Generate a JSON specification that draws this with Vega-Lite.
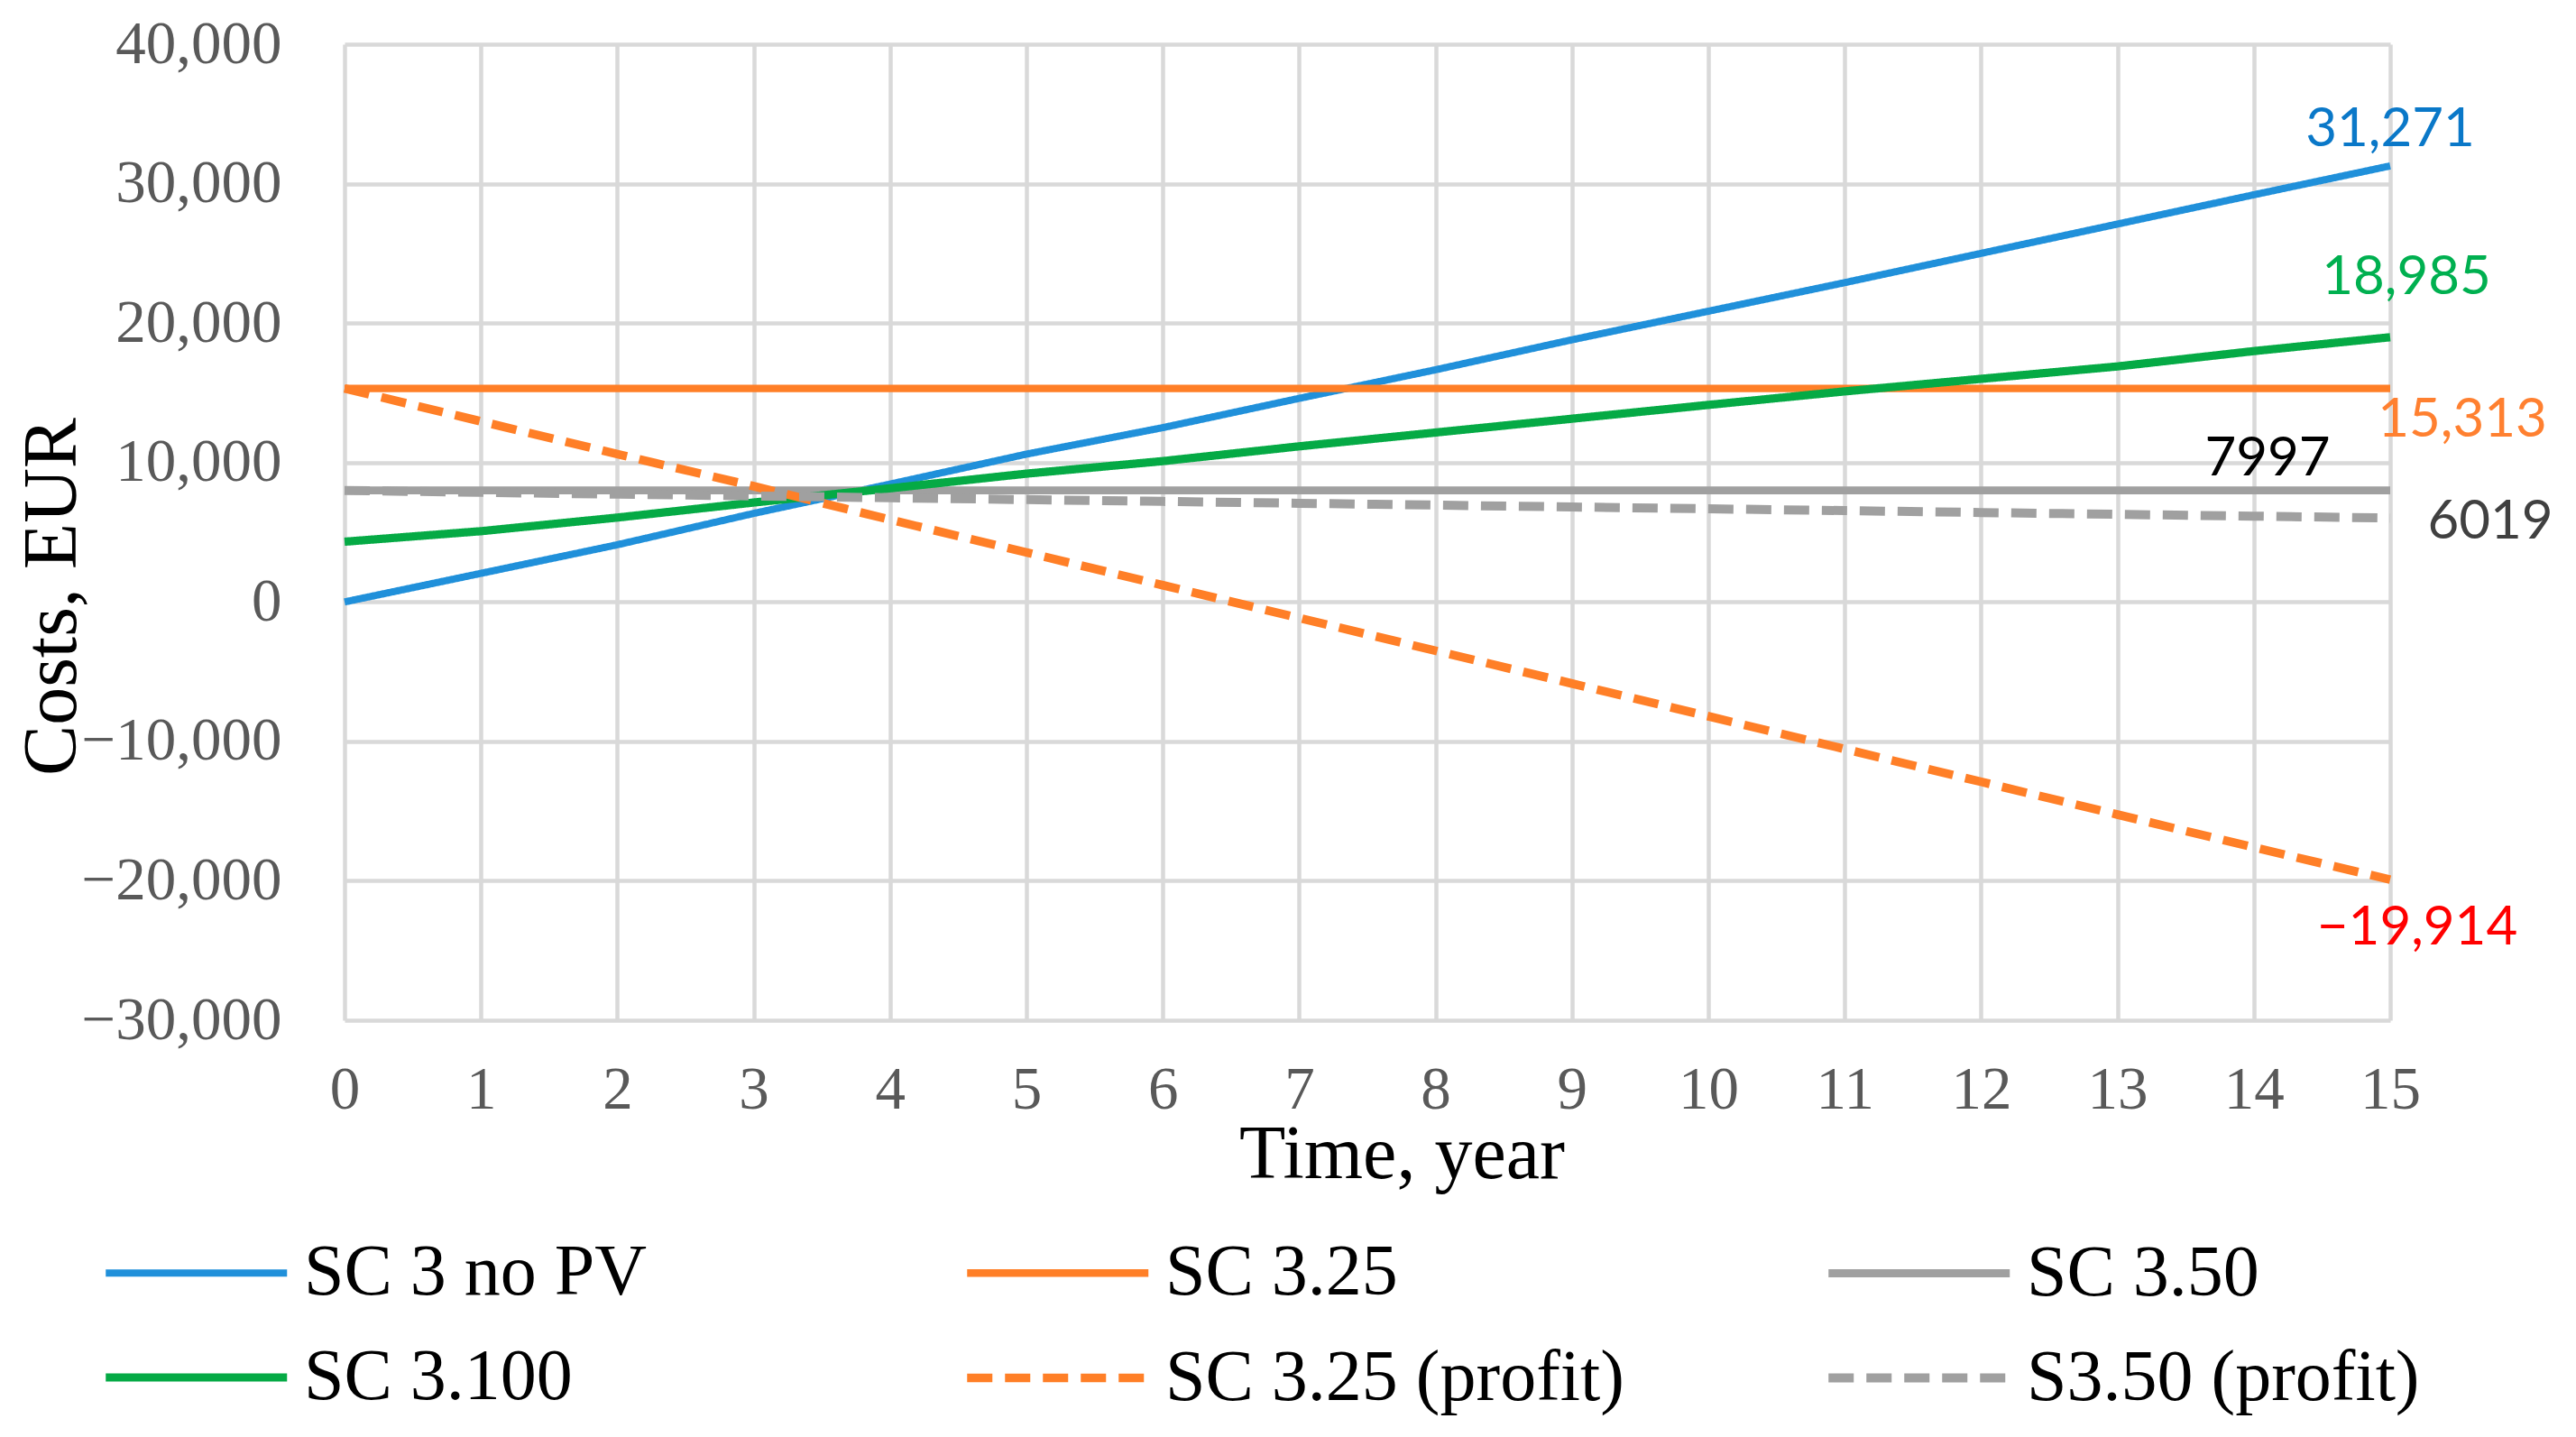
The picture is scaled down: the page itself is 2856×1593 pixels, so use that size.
{
  "$schema": "https://vega.github.io/schema/vega-lite/v6.json",
  "width": 2268,
  "height": 1082,
  "autosize": {"type": "none"},
  "padding": {"left": 382, "top": 49, "right": 206, "bottom": 462},
  "background": "white",
  "config": {
    "view": {"stroke": null},
    "axis": {
      "labelFont": "Liberation Serif",
      "labelFontSize": 67,
      "labelColor": "#595959",
      "labelFlush": false,
      "labelOverlap": false,
      "labelLimit": 0,
      "titleFont": "Liberation Serif",
      "titleFontSize": 84,
      "titleFontWeight": "normal",
      "titleColor": "#000000",
      "grid": true,
      "gridColor": "#d9d9d9",
      "gridWidth": 4.5,
      "domain": false,
      "ticks": false
    },
    "text": {"font": "Lato", "fontSize": 60, "align": "center", "baseline": "alphabetic"}
  },
  "data": {
    "values": [
      {"series": "SC 3 no PV", "year": 0, "cost": 0},
      {"series": "SC 3 no PV", "year": 1, "cost": 2050},
      {"series": "SC 3 no PV", "year": 2, "cost": 4100},
      {"series": "SC 3 no PV", "year": 3, "cost": 6350},
      {"series": "SC 3 no PV", "year": 4, "cost": 8450},
      {"series": "SC 3 no PV", "year": 5, "cost": 10600},
      {"series": "SC 3 no PV", "year": 6, "cost": 12500},
      {"series": "SC 3 no PV", "year": 7, "cost": 14600},
      {"series": "SC 3 no PV", "year": 8, "cost": 16650},
      {"series": "SC 3 no PV", "year": 9, "cost": 18800},
      {"series": "SC 3 no PV", "year": 10, "cost": 20850},
      {"series": "SC 3 no PV", "year": 11, "cost": 22900},
      {"series": "SC 3 no PV", "year": 12, "cost": 25000},
      {"series": "SC 3 no PV", "year": 13, "cost": 27100},
      {"series": "SC 3 no PV", "year": 14, "cost": 29200},
      {"series": "SC 3 no PV", "year": 15, "cost": 31271},
      {"series": "SC 3.25", "year": 0, "cost": 15313},
      {"series": "SC 3.25", "year": 1, "cost": 15313},
      {"series": "SC 3.25", "year": 2, "cost": 15313},
      {"series": "SC 3.25", "year": 3, "cost": 15313},
      {"series": "SC 3.25", "year": 4, "cost": 15313},
      {"series": "SC 3.25", "year": 5, "cost": 15313},
      {"series": "SC 3.25", "year": 6, "cost": 15313},
      {"series": "SC 3.25", "year": 7, "cost": 15313},
      {"series": "SC 3.25", "year": 8, "cost": 15313},
      {"series": "SC 3.25", "year": 9, "cost": 15313},
      {"series": "SC 3.25", "year": 10, "cost": 15313},
      {"series": "SC 3.25", "year": 11, "cost": 15313},
      {"series": "SC 3.25", "year": 12, "cost": 15313},
      {"series": "SC 3.25", "year": 13, "cost": 15313},
      {"series": "SC 3.25", "year": 14, "cost": 15313},
      {"series": "SC 3.25", "year": 15, "cost": 15313},
      {"series": "SC 3.50", "year": 0, "cost": 7997},
      {"series": "SC 3.50", "year": 1, "cost": 7997},
      {"series": "SC 3.50", "year": 2, "cost": 7997},
      {"series": "SC 3.50", "year": 3, "cost": 7997},
      {"series": "SC 3.50", "year": 4, "cost": 7997},
      {"series": "SC 3.50", "year": 5, "cost": 7997},
      {"series": "SC 3.50", "year": 6, "cost": 7997},
      {"series": "SC 3.50", "year": 7, "cost": 7997},
      {"series": "SC 3.50", "year": 8, "cost": 7997},
      {"series": "SC 3.50", "year": 9, "cost": 7997},
      {"series": "SC 3.50", "year": 10, "cost": 7997},
      {"series": "SC 3.50", "year": 11, "cost": 7997},
      {"series": "SC 3.50", "year": 12, "cost": 7997},
      {"series": "SC 3.50", "year": 13, "cost": 7997},
      {"series": "SC 3.50", "year": 14, "cost": 7997},
      {"series": "SC 3.50", "year": 15, "cost": 7997},
      {"series": "SC 3.100", "year": 0, "cost": 4320},
      {"series": "SC 3.100", "year": 1, "cost": 5075},
      {"series": "SC 3.100", "year": 2, "cost": 6050},
      {"series": "SC 3.100", "year": 3, "cost": 7130},
      {"series": "SC 3.100", "year": 4, "cost": 8150},
      {"series": "SC 3.100", "year": 5, "cost": 9200},
      {"series": "SC 3.100", "year": 6, "cost": 10100},
      {"series": "SC 3.100", "year": 7, "cost": 11160},
      {"series": "SC 3.100", "year": 8, "cost": 12150},
      {"series": "SC 3.100", "year": 9, "cost": 13140},
      {"series": "SC 3.100", "year": 10, "cost": 14130},
      {"series": "SC 3.100", "year": 11, "cost": 15100},
      {"series": "SC 3.100", "year": 12, "cost": 16000},
      {"series": "SC 3.100", "year": 13, "cost": 16890},
      {"series": "SC 3.100", "year": 14, "cost": 17990},
      {"series": "SC 3.100", "year": 15, "cost": 18985},
      {"series": "SC 3.25 (profit)", "year": 0, "cost": 15313},
      {"series": "SC 3.25 (profit)", "year": 1, "cost": 12950},
      {"series": "SC 3.25 (profit)", "year": 2, "cost": 10600},
      {"series": "SC 3.25 (profit)", "year": 3, "cost": 8300},
      {"series": "SC 3.25 (profit)", "year": 4, "cost": 5900},
      {"series": "SC 3.25 (profit)", "year": 5, "cost": 3550},
      {"series": "SC 3.25 (profit)", "year": 6, "cost": 1200},
      {"series": "SC 3.25 (profit)", "year": 7, "cost": -1150},
      {"series": "SC 3.25 (profit)", "year": 8, "cost": -3500},
      {"series": "SC 3.25 (profit)", "year": 9, "cost": -5850},
      {"series": "SC 3.25 (profit)", "year": 10, "cost": -8200},
      {"series": "SC 3.25 (profit)", "year": 11, "cost": -10550},
      {"series": "SC 3.25 (profit)", "year": 12, "cost": -12900},
      {"series": "SC 3.25 (profit)", "year": 13, "cost": -15250},
      {"series": "SC 3.25 (profit)", "year": 14, "cost": -17600},
      {"series": "SC 3.25 (profit)", "year": 15, "cost": -19914},
      {"series": "S3.50 (profit)", "year": 0, "cost": 7997},
      {"series": "S3.50 (profit)", "year": 1, "cost": 7860},
      {"series": "S3.50 (profit)", "year": 2, "cost": 7730},
      {"series": "S3.50 (profit)", "year": 3, "cost": 7600},
      {"series": "S3.50 (profit)", "year": 4, "cost": 7470},
      {"series": "S3.50 (profit)", "year": 5, "cost": 7340},
      {"series": "S3.50 (profit)", "year": 6, "cost": 7210},
      {"series": "S3.50 (profit)", "year": 7, "cost": 7075},
      {"series": "S3.50 (profit)", "year": 8, "cost": 6945},
      {"series": "S3.50 (profit)", "year": 9, "cost": 6810},
      {"series": "S3.50 (profit)", "year": 10, "cost": 6680},
      {"series": "S3.50 (profit)", "year": 11, "cost": 6550},
      {"series": "S3.50 (profit)", "year": 12, "cost": 6415},
      {"series": "S3.50 (profit)", "year": 13, "cost": 6285},
      {"series": "S3.50 (profit)", "year": 14, "cost": 6150},
      {"series": "S3.50 (profit)", "year": 15, "cost": 6019}
    ]
  },
  "encoding": {
    "x": {
      "field": "year",
      "type": "quantitative",
      "scale": {"domain": [0, 15], "nice": false, "zero": false},
      "axis": {
        "values": [0, 1, 2, 3, 4, 5, 6, 7, 8, 9, 10, 11, 12, 13, 14, 15],
        "labelPadding": 44,
        "title": "Time, year",
        "titleX": 1172,
        "titleY": 174,
        "titleBaseline": "alphabetic",
        "titleAlign": "center",
        "titleAnchor": null
      }
    },
    "y": {
      "field": "cost",
      "type": "quantitative",
      "scale": {"domain": [-30000, 40000], "nice": false},
      "axis": {
        "values": [-30000, -20000, -10000, 0, 10000, 20000, 30000, 40000],
        "format": ",d",
        "labelPadding": 70,
        "title": "Costs, EUR",
        "titleAngle": 270,
        "titleX": -299,
        "titleY": 612,
        "titleBaseline": "alphabetic",
        "titleAlign": "center",
        "titleAnchor": null
      }
    }
  },
  "layer": [
    {
      "mark": {"type": "line", "strokeCap": "butt"},
      "encoding": {
        "color": {
          "field": "series",
          "type": "nominal",
          "title": null,
          "scale": {
            "domain": ["SC 3 no PV", "SC 3.25", "SC 3.50", "SC 3.100", "SC 3.25 (profit)", "S3.50 (profit)"],
            "range": ["#2090da", "#ff7f27", "#a0a0a0", "#05aa45", "#ff7f27", "#a0a0a0"]
          },
          "legend": {
            "orient": "none",
            "legendX": -270,
            "legendY": 1307,
            "direction": "horizontal",
            "columns": 3,
            "gridAlign": "all",
            "columnPadding": 206,
            "rowPadding": 20,
            "symbolType": "M-1,0H3",
            "symbolSize": 10100,
            "symbolStrokeWidth": 10,
            "labelFont": "Liberation Serif",
            "labelFontSize": 80,
            "labelColor": "#000000",
            "labelOffset": 114,
            "labelLimit": 0
          }
        },
        "strokeDash": {
          "field": "series",
          "type": "nominal",
          "title": null,
          "scale": {
            "domain": ["SC 3 no PV", "SC 3.25", "SC 3.50", "SC 3.100", "SC 3.25 (profit)", "S3.50 (profit)"],
            "range": [[1, 0], [1, 0], [1, 0], [1, 0], [28, 14], [28, 14]]
          }
        },
        "strokeWidth": {
          "field": "series",
          "type": "nominal",
          "legend": null,
          "scale": {
            "domain": ["SC 3 no PV", "SC 3.25", "SC 3.50", "SC 3.100", "SC 3.25 (profit)", "S3.50 (profit)"],
            "range": [8, 10, 9, 11, 10, 10]
          }
        }
      }
    },
    {
      "transform": [{"filter": "datum.year == 15 && datum.series == 'SC 3 no PV'"}],
      "mark": {"type": "text", "color": "#0a78c8", "dy": -22},
      "encoding": {"text": {"field": "cost", "type": "quantitative", "format": ",d"}}
    },
    {
      "transform": [{"filter": "datum.year == 15 && datum.series == 'SC 3.100'"}],
      "mark": {"type": "text", "color": "#00b050", "dx": 18, "dy": -48},
      "encoding": {"text": {"field": "cost", "type": "quantitative", "format": ",d"}}
    },
    {
      "transform": [{"filter": "datum.year == 15 && datum.series == 'SC 3.25'"}],
      "mark": {"type": "text", "color": "#ff8030", "dx": 80, "dy": 53},
      "encoding": {"text": {"field": "cost", "type": "quantitative", "format": ",d"}}
    },
    {
      "transform": [{"filter": "datum.year == 15 && datum.series == 'SC 3.50'"}],
      "mark": {"type": "text", "color": "#000000", "dx": -136, "dy": -17},
      "encoding": {"text": {"field": "cost", "type": "quantitative", "format": "d"}}
    },
    {
      "transform": [{"filter": "datum.year == 15 && datum.series == 'S3.50 (profit)'"}],
      "mark": {"type": "text", "color": "#404040", "dx": 111, "dy": 23},
      "encoding": {"text": {"field": "cost", "type": "quantitative", "format": "d"}}
    },
    {
      "transform": [{"filter": "datum.year == 15 && datum.series == 'SC 3.25 (profit)'"}],
      "mark": {"type": "text", "color": "#ff0000", "dx": 30, "dy": 72},
      "encoding": {"text": {"field": "cost", "type": "quantitative", "format": ",d"}}
    }
  ]
}
